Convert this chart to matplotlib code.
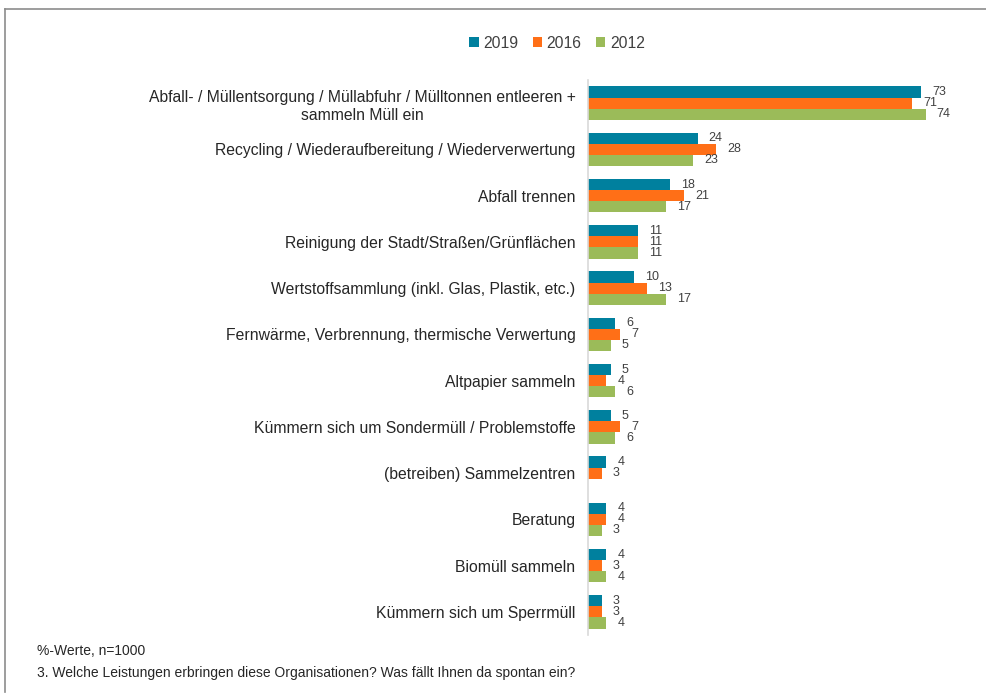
import numpy as np
import matplotlib
matplotlib.use("Agg")
import matplotlib.pyplot as plt
from matplotlib.lines import Line2D

plt.rcParams['font.family'] = ['Liberation Sans', 'DejaVu Sans']

categories = [
    "Abfall- / Müllentsorgung / Müllabfuhr / Mülltonnen entleeren +\nsammeln Müll ein",
    "Recycling / Wiederaufbereitung / Wiederverwertung",
    "Abfall trennen",
    "Reinigung der Stadt/Straßen/Grünflächen",
    "Wertstoffsammlung (inkl. Glas, Plastik, etc.)",
    "Fernwärme, Verbrennung, thermische Verwertung",
    "Altpapier sammeln",
    "Kümmern sich um Sondermüll / Problemstoffe",
    "(betreiben) Sammelzentren",
    "Beratung",
    "Biomüll sammeln",
    "Kümmern sich um Sperrmüll",
]
series_names = ["2019", "2016", "2012"]
v2019 = [73, 24, 18, 11, 10, 6, 5, 5, 4, 4, 4, 3]
v2016 = [71, 28, 21, 11, 13, 7, 4, 7, 3, 4, 3, 3]
v2012 = [74, 23, 17, 11, 17, 5, 6, 6, np.nan, 3, 4, 4]
colors = ["#00809E", "#FF6F17", "#9BBB59"]

fig = plt.figure(figsize=(9.86, 6.99), dpi=100)
ax = fig.add_axes([588/986, (699-635)/699, 365/986, 555/699])

n = len(categories)
y = np.arange(n)
h = 0.24
for i, (vals, c, name) in enumerate(zip([v2019, v2016, v2012], colors, series_names)):
    pos = y + (i - 1) * h
    ax.barh(pos, vals, height=h, color=c, label=name)
    for p, v in zip(pos, vals):
        if not np.isnan(v):
            ax.annotate(f"{int(v)}", (v, p), xytext=(8, 0), textcoords="offset points",
                        ha="left", va="center", fontsize=9, color="#404040")

ax.set_ylim(n - 0.5, -0.5)
ax.set_xlim(0, 80)
ax.set_yticks(y)
ax.set_yticklabels(categories, fontsize=11.3, color="#262626", linespacing=1.25)
ax.tick_params(axis='y', length=0, pad=9)
ax.set_xticks([])
for s in ["top", "right", "bottom"]:
    ax.spines[s].set_visible(False)
ax.spines["left"].set_color("#D9D9D9")
ax.spines["left"].set_linewidth(1.2)
for lbl in ax.get_yticklabels():
    lbl.set_multialignment("center")

leg = fig.legend(loc="center", bbox_to_anchor=(557/986, 1 - 43/699), ncol=3, frameon=False,
                 fontsize=11.3, handlelength=0.6, handleheight=0.6, handletextpad=0.3,
                 columnspacing=0.9)
for t in leg.get_texts():
    t.set_color("#404040")

fig.text(37/986, 1 - 651/699, "%-Werte, n=1000", fontsize=10, va="center", color="#262626")
fig.text(37/986, 1 - 673/699, "3. Welche Leistungen erbringen diese Organisationen? Was fällt Ihnen da spontan ein?",
         fontsize=10, va="center", color="#262626")

fig.add_artist(Line2D([5/986, 1.0], [1 - 9/699, 1 - 9/699], color="#8C8C8C", lw=1.2, transform=fig.transFigure))
fig.add_artist(Line2D([5/986, 5/986], [1 - 9/699, 1 - 692/699], color="#8C8C8C", lw=1.2, transform=fig.transFigure))

fig.savefig("out.png", dpi=100)
